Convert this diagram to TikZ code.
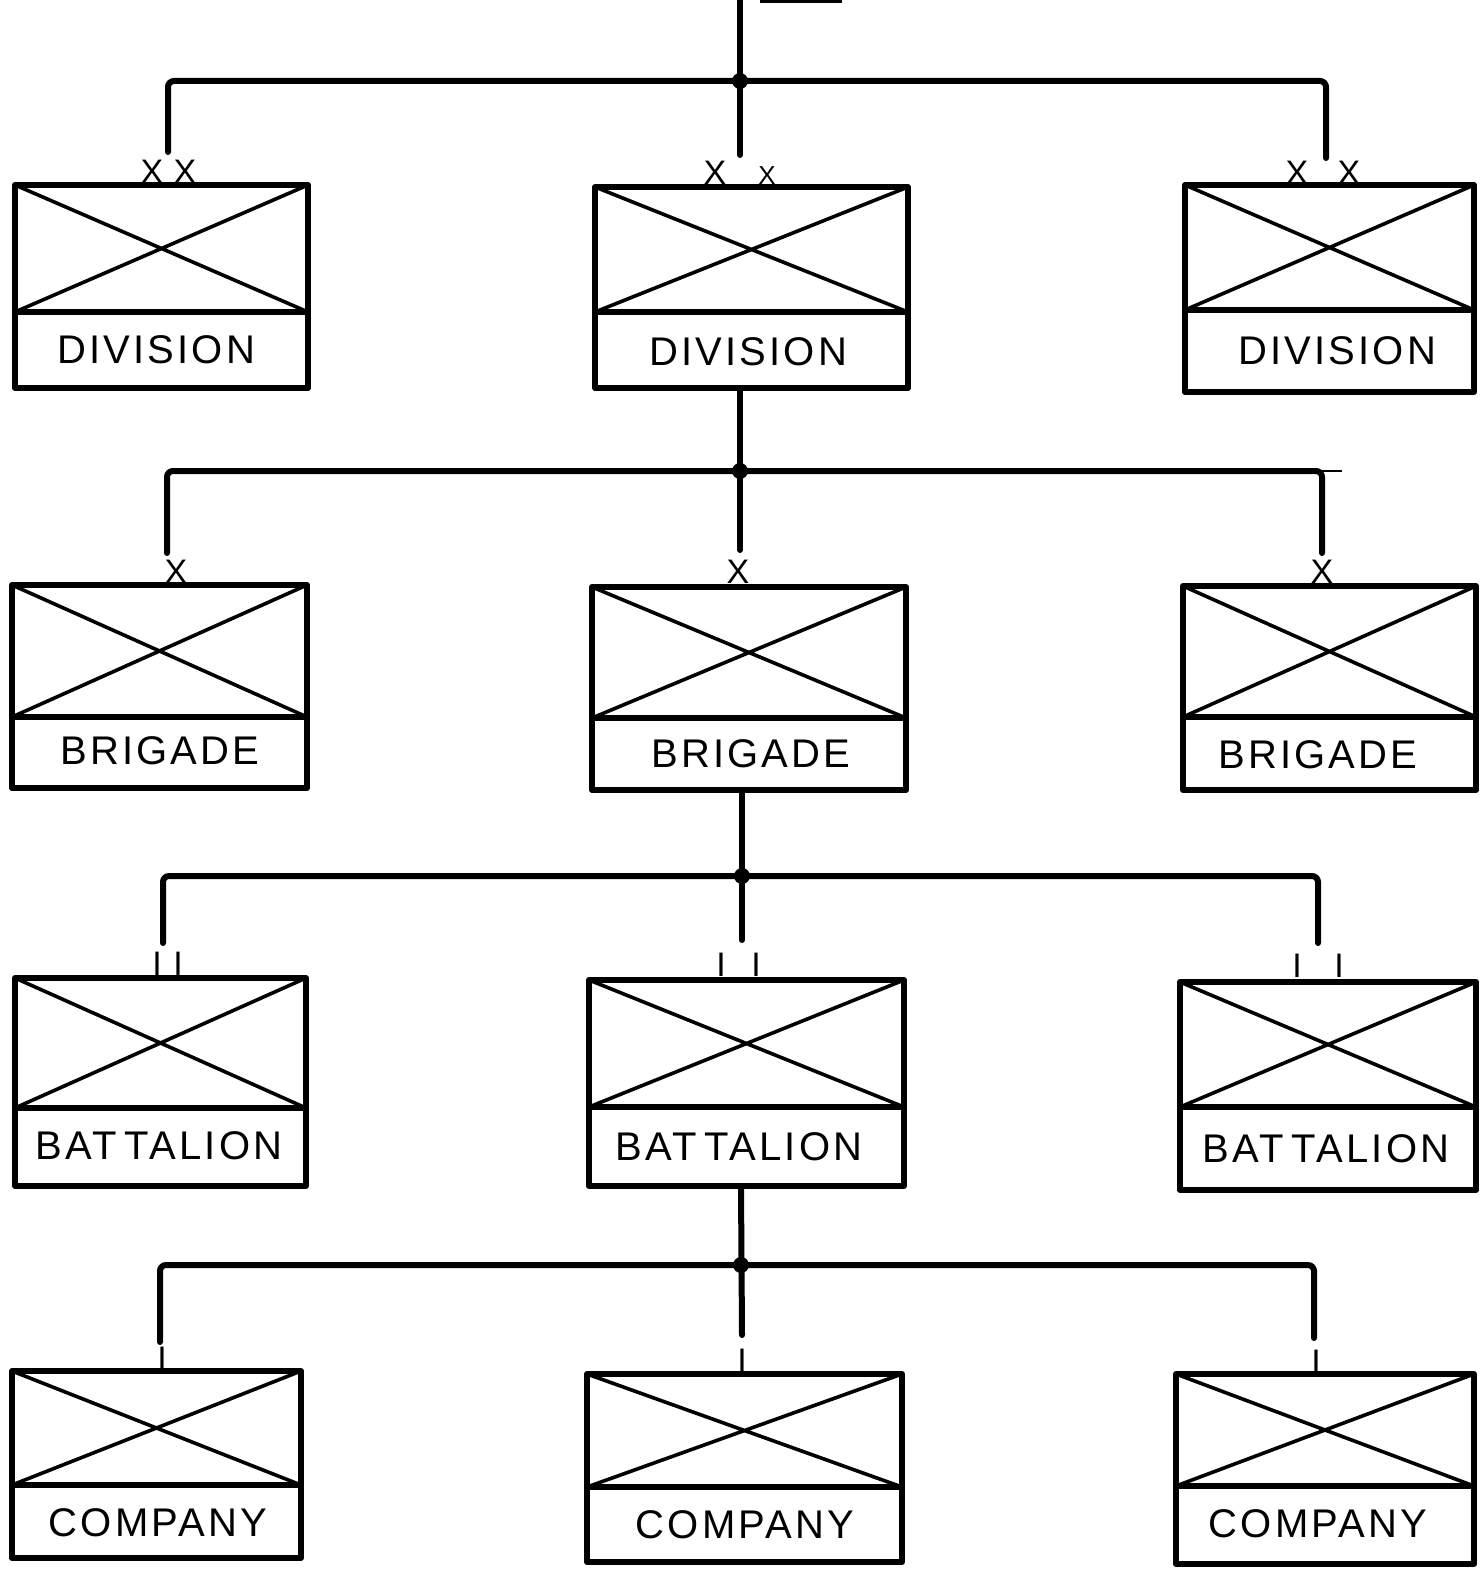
\documentclass[tikz,border=0pt]{standalone}
\usepackage{fontspec}
\setmainfont{Liberation Sans}[LetterSpace=8]
\newfontfamily\markfont{Liberation Sans}
\usetikzlibrary{fit}
\tikzset{
  ubox/.style={draw, line width=3pt, inner sep=0pt, line join=round,
    path picture={\draw[line width=1.8pt]
      (path picture bounding box.north west) -- (path picture bounding box.south east)
      (path picture bounding box.south west) -- (path picture bounding box.north east);}},
  lbox/.style={draw, line width=3pt, inner sep=0pt, line join=round},
  lab/.style={inner sep=0pt, font=\fontsize{20}{20}\selectfont},
  sizemark/.style={inner sep=0pt, font=\markfont\fontsize{17}{17}\selectfont},
  smallsizemark/.style={inner sep=0pt, font=\markfont\fontsize{13}{13}\selectfont},
  conn/.style={line width=3pt, rounded corners=3pt, line cap=round},
  jdot/.style={fill=black, draw=none},
}
\newcommand\orgbox[6]{%
  \node[ubox, fit={(#2,#3)(#5,#4)}] (#1u) {};
  \node[lbox, fit={(#2,#4)(#5,#6)}] (#1l) {};
}
\begin{document}
\begin{tikzpicture}[x=0.5pt,y=-0.5pt]
\useasboundingbox (0,0) rectangle (1482,1572);
% ---- boxes
\orgbox{dA}{15}{185}{312}{308}{388}
\orgbox{dB}{595}{187}{312}{908}{388}
\orgbox{dC}{1185}{185}{310}{1474}{392}
\orgbox{bA}{12}{585}{717}{307}{788}
\orgbox{bB}{592}{587}{718}{906}{790}
\orgbox{bC}{1183}{586}{717}{1476}{790}
\orgbox{tA}{15}{978}{1108}{306}{1186}
\orgbox{tB}{589}{980}{1107}{904}{1186}
\orgbox{tC}{1180}{982}{1107}{1476}{1190}
\orgbox{cA}{12}{1371}{1485}{301}{1558}
\orgbox{cB}{587}{1374}{1487}{902}{1562}
\orgbox{cC}{1176}{1374}{1486}{1474}{1564}
% ---- labels
\node[lab] (dAt) at (156,350) {DIVISION};
\node[lab] (dBt) at (748,352) {DIVISION};
\node[lab] (dCt) at (1337,351) {DIVISION};
\node[lab] (bAt) at (160,751) {BRIGADE};
\node[lab] (bBt) at (751,754) {BRIGADE};
\node[lab] (bCt) at (1318,755) {BRIGADE};
\node[lab] (tAt) at (159,1146) {BAT\kern4pt TALION};
\node[lab] (tBt) at (739,1147) {BAT\kern4pt TALION};
\node[lab] (tCt) at (1326,1149) {BAT\kern4pt TALION};
\node[lab] (cAt) at (158,1523) {COMPANY};
\node[lab] (cBt) at (745,1525) {COMPANY};
\node[lab] (cCt) at (1318,1524) {COMPANY};
% ---- size marks
\node[sizemark] (mA1) at (152,172) {X};
\node[sizemark] (mA2) at (185,172) {X};
\node[sizemark] (mB1) at (715,173) {X};
\node[smallsizemark] (mB2) at (767,176) {X};
\node[sizemark] (mC1) at (1297,173) {X};
\node[sizemark] (mC2) at (1349,173) {X};
\node[sizemark] (nA) at (176,572) {X};
\node[sizemark] (nB) at (738,572) {X};
\node[sizemark] (nC) at (1322,572) {X};
\node[sizemark] (oA1) at (157,964) {I};
\node[sizemark] (oA2) at (178,964) {I};
\node[sizemark] (oB1) at (721,965) {I};
\node[sizemark] (oB2) at (756,965) {I};
\node[sizemark] (oC1) at (1297,966) {I};
\node[sizemark] (oC2) at (1339,966) {I};
\node[sizemark] (pA) at (162,1359) {I};
\node[sizemark] (pB) at (742,1361) {I};
\node[sizemark] (pC) at (1316,1362) {I};
% ---- connector points
\coordinate (top) at (740,-2);
\coordinate (topa) at (760,1);
\coordinate (topbar) at (842,1);
\coordinate (j1) at (740,81);
\coordinate (e1a) at (168,152);
\coordinate (e1b) at (740,155);
\coordinate (e1c) at (1326,158);
\coordinate (j2) at (740,471);
\coordinate (e2a) at (167,553);
\coordinate (e2b) at (740,550);
\coordinate (e2c) at (1322,553);
\coordinate (s2c) at (1342,471);
\coordinate (j3) at (742,876);
\coordinate (e3a) at (163,943);
\coordinate (e3b) at (742,940);
\coordinate (e3c) at (1318,943);
\coordinate (j4) at (741,1265);
\coordinate (e4a) at (160,1342);
\coordinate (e4b) at (742,1335);
\coordinate (e4c) at (1314,1338);
% ---- connectors
\draw[line width=1.6pt] (topa) -- (topbar);
\draw[conn] (top) -- (e1b);
\draw[conn] (e1a) -- (e1a |- j1) -- (e1c |- j1) -- (e1c);
\fill[jdot] (j1) circle (8);
\draw[conn] (dBl.south -| j2) -- (e2b);
\draw[conn] (e2a) -- (e2a |- j2) -- (e2c |- j2) -- (e2c);
\draw[line width=1pt] (e2c |- j2) -- (s2c);
\fill[jdot] (j2) circle (8);
\draw[conn] (bBl.south -| j3) -- (e3b);
\draw[conn] (e3a) -- (e3a |- j3) -- (e3c |- j3) -- (e3c);
\fill[jdot] (j3) circle (8);
\draw[conn] (tBl.south -| j4) -- (e4b);
\draw[conn] (e4a) -- (e4a |- j4) -- (e4c |- j4) -- (e4c);
\fill[jdot] (j4) circle (8);
\end{tikzpicture}
\end{document}
